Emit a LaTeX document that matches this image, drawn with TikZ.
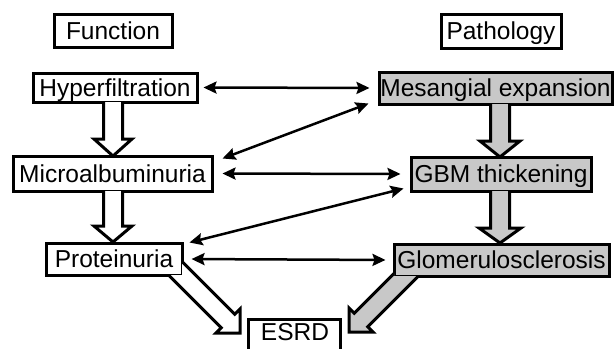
\documentclass[tikz,border=0pt]{standalone}
\usepackage{fontspec}
\setmainfont{Liberation Sans}
\usetikzlibrary{calc,arrows.meta}
\definecolor{boxgray}{RGB}{200,200,200}
% #1 box name, #2 start (inside box), #3 tip, #4 fill, #5 head length, #6 head half width
\newcommand\hollowarr[6]{%
  \begin{scope}[even odd rule]
    \clip (-10,-10) rectangle (625,360)
      ($(#1.south west)+(1.5,-1.5)$) rectangle ($(#1.north east)+(-1.5,1.5)$);
    \coordinate (hS) at (#2);
    \coordinate (hT) at (#3);
    \coordinate (hH) at ($(hT)!#5pt!(hS)$);
    \coordinate (p1) at ($(hS)!9.5pt!90:(hT)$);
    \coordinate (p2) at ($(hH)!9.5pt!90:(hT)$);
    \coordinate (p3) at ($(hH)!#6pt!90:(hT)$);
    \coordinate (p4) at ($(hH)!#6pt!-90:(hT)$);
    \coordinate (p5) at ($(hH)!9.5pt!-90:(hT)$);
    \coordinate (p6) at ($(hS)!9.5pt!-90:(hT)$);
    \fill[#4] (p1) -- (p2) -- (p3) -- (hT) -- (p4) -- (p5) -- (p6) -- cycle;
    \draw[outline] (p1) -- (p2) -- (p3) -- (hT) -- (p4) -- (p5) -- (p6);
  \end{scope}}
\begin{document}
\begin{tikzpicture}[x=1pt,y=-1pt,
  box/.style={draw, line width=3pt, fill=white, rectangle, inner sep=0pt,
    font=\fontsize{24.5}{27}\selectfont, text height=17.5pt, text depth=0pt},
  graybox/.style={box, fill=boxgray},
  plain/.style={inner sep=0pt, font=\fontsize{24.5}{27}\selectfont, text height=17.5pt, text depth=0pt},
  outline/.style={line width=3pt, line join=miter},
  dbl/.style={{Stealth[length=13pt,width=12pt,inset=2pt]}-{Stealth[length=13pt,width=12pt,inset=2pt]}, line width=2.5pt},
]
\clip (0,0) rectangle (615,348);
\fill[white] (0,0) rectangle (615,348);

% boxes
\node[box, minimum width=118, minimum height=33] (func) at (113,30.5) {Function};
\node[box, minimum width=120, minimum height=34] (path) at (501,31) {Pathology};
\node[box, minimum width=164, minimum height=29] (hyper) at (115,87.5) {Hyperfiltration};
\node[graybox, minimum width=233, minimum height=32] (mes) at (495.5,88) {Mesangial expansion};
\node[box, minimum width=199, minimum height=35] (micro) at (112.5,173.5) {Microalbuminuria};
\node[graybox, minimum width=180, minimum height=34] (gbm) at (501,174) {GBM thickening};
\node[box, minimum width=136, minimum height=32] (prot) at (114,259) {Proteinuria};
\node[graybox, minimum width=215, minimum height=32] (glom) at (501.5,260) {Glomerulosclerosis};
\node[box, minimum width=92, minimum height=36, anchor=north] (esrd) at (294,318) {};
\node[plain] (esrdtext) at (295,331.5) {ESRD};

% hollow arrows
\hollowarr{hyper}{113,92}{113,156}{white}{17}{19}
\hollowarr{micro}{113,178}{113,242}{white}{16}{19}
\hollowarr{mes}{500,92}{500,157}{boxgray}{16}{20}
\hollowarr{gbm}{500,178}{500,243}{boxgray}{15}{21}
\hollowarr{prot}{168,261}{240,333}{white}{17}{17}
\hollowarr{glom}{412,269}{349,332}{boxgray}{17}{17}

% thin double arrows
\draw[dbl, shorten <=5pt, shorten >=8pt] (hyper.east) -- (mes.west);
\draw[dbl] ($(micro.north east)+(9,4)$) -- ($(mes.south west)+(-9,-2)$);
\draw[dbl, shorten <=9pt, shorten >=9pt] (micro.east) -- (gbm.west);
\draw[dbl] ($(prot.north east)+(6,1)$) -- ($(gbm.south west)+(-6,-4)$);
\draw[dbl, shorten <=8pt, shorten >=7pt] (prot.east) -- (glom.west);
\end{tikzpicture}
\end{document}
